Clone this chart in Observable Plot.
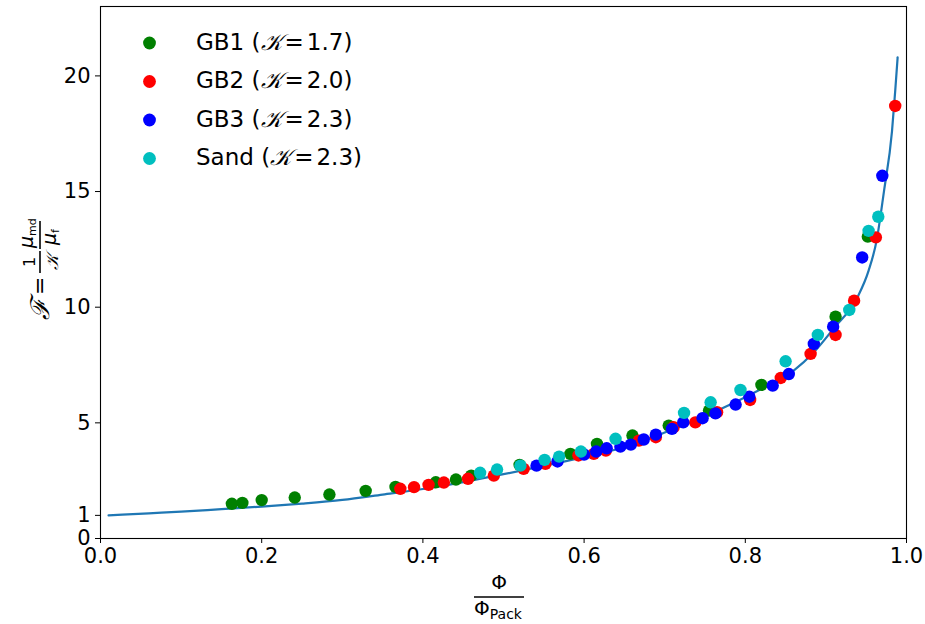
<!DOCTYPE html>
<html><head><meta charset="utf-8">
<script src="https://cdn.jsdelivr.net/npm/d3@7"></script>
<script src="https://cdn.jsdelivr.net/npm/@observablehq/plot@0.6"></script>
<style>body{margin:0;background:#fff} #chart{position:relative;width:925px;height:624px}</style>
</head><body><div id="chart"></div>
<script>
// Model curve
const curveX = [0.01,0.06,0.1,0.15,0.2,0.25,0.3,0.35,0.4,0.45,0.5,0.55,0.6,0.645,0.7,0.744,0.786,0.827,0.86,0.885,0.91,0.939,0.953,0.963,0.972,0.982,0.986,0.989];
const curveF = [1.00,1.09,1.16,1.27,1.38,1.51,1.67,1.90,2.14,2.44,2.78,3.14,3.52,3.90,4.58,5.20,5.87,6.60,7.26,8.05,9.1,10.42,11.58,12.9,15.0,17.6,19.35,20.8];

// GB1 (K=1.7)
const gb1X = [0.163,0.176,0.200,0.241,0.284,0.329,0.366,0.416,0.441,0.460,0.520,0.583,0.616,0.660,0.705,0.755,0.820,0.912,0.952];
const gb1F = [1.50,1.54,1.66,1.77,1.90,2.06,2.23,2.43,2.55,2.72,3.18,3.66,4.09,4.45,4.88,5.53,6.64,9.59,13.05];
// GB2 (K=2.0)
const gb2X = [0.372,0.389,0.407,0.426,0.456,0.488,0.525,0.552,0.593,0.612,0.627,0.668,0.689,0.711,0.738,0.765,0.806,0.844,0.881,0.912,0.935,0.962,0.986];
const gb2F = [2.15,2.22,2.32,2.42,2.58,2.72,3.01,3.23,3.59,3.66,3.80,4.23,4.38,4.81,5.02,5.46,5.99,6.94,7.98,8.80,10.28,13.02,18.70];
// GB3 (K=2.3)
const gb3X = [0.541,0.567,0.600,0.615,0.628,0.645,0.658,0.674,0.689,0.709,0.723,0.747,0.763,0.788,0.805,0.834,0.854,0.885,0.909,0.945,0.970];
const gb3F = [3.15,3.33,3.63,3.76,3.90,3.97,4.06,4.28,4.49,4.74,5.02,5.20,5.41,5.79,6.13,6.61,7.11,8.41,9.16,12.15,15.68];
// Sand (K=2.3)
const sandX = [0.471,0.492,0.521,0.551,0.569,0.596,0.639,0.724,0.757,0.794,0.850,0.890,0.929,0.953,0.965];
const sandF = [2.84,2.98,3.15,3.40,3.54,3.76,4.31,5.43,5.89,6.42,7.66,8.80,9.88,13.30,13.91];

const seriesNames = ["GB1", "GB2", "GB3", "Sand"];
const seriesK = ["1.7", "2.0", "2.3", "2.3"];
const seriesColors = ["#008000", "#ff0000", "#0000ff", "#00bfbf"];
const xTicks = [0, 0.2, 0.4, 0.6, 0.8, 1.0];
const yTicks = [0, 1, 5, 10, 15, 20];

const curve = curveX.map((x, i) => ({x, F: curveF[i]}));
const mk = (xs, Fs) => xs.map((x, i) => ({x, F: Fs[i]}));
const series = [mk(gb1X, gb1F), mk(gb2X, gb2F), mk(gb3X, gb3F), mk(sandX, sandF)];

const svgNode = Plot.plot({
  width: 925, height: 624,
  marginLeft: 100, marginRight: 19, marginTop: 6, marginBottom: 86,
  style: {fontFamily: "DejaVu Sans", fontSize: "21px", color: "black", background: "white", overflow: "visible"},
  x: {domain: [0, 1]},
  y: {domain: [0, 23]},
  marks: [
    Plot.axisX({ticks: xTicks, tickFormat: d3.format(".1f"), tickSize: 5, tickPadding: 5, label: null, fontSize: 21}),
    Plot.axisY({ticks: yTicks, tickSize: 5, tickPadding: 5, label: null, fontSize: 21}),
    Plot.line(curve, {x: "x", y: "F", stroke: "#1f77b4", strokeWidth: 2.2, curve: "monotone-x"}),
    ...series.map((d, i) => Plot.dot(d, {x: "x", y: "F", r: 6.2, fill: seriesColors[i], stroke: "none"})),
    Plot.frame({stroke: "black", strokeWidth: 1.1})
  ]
});
document.getElementById("chart").appendChild(svgNode);
const svg = d3.select(svgNode);

// Legend
const leg = svg.append("g").attr("font-family", "DejaVu Sans").attr("font-size", 23).attr("fill", "black").attr("text-anchor", "start");
seriesNames.forEach((n, i) => {
  const cy = 43 + 38.5 * i;
  leg.append("circle").attr("cx", 149.5).attr("cy", cy).attr("r", 6.4).attr("fill", seriesColors[i]);
  const t = leg.append("text").attr("x", 196).attr("y", cy + 6.5).attr("text-anchor", "start");
  t.append("tspan").text(n + " (");
  t.append("tspan").attr("font-family", "DejaVu Serif").attr("font-style", "italic").text("𝒦");
  t.append("tspan").attr("dx", 3).text("=");
  t.append("tspan").attr("dx", 3).text(seriesK[i] + ")");
});

// X label: Φ / Φ_Pack
const xl = svg.append("g").attr("font-family", "DejaVu Sans").attr("fill", "black").attr("text-anchor", "start");
xl.append("text").attr("x", 499).attr("y", 589).attr("text-anchor", "middle").attr("font-size", 20).text("Φ");
xl.append("line").attr("x1", 474).attr("x2", 524).attr("y1", 597).attr("y2", 597).attr("stroke", "black").attr("stroke-width", 1.6);
const dn = xl.append("text").attr("x", 474).attr("y", 615).attr("font-size", 20).attr("text-anchor", "start");
dn.append("tspan").text("Φ");
dn.append("tspan").attr("font-size", 14).attr("dy", 4).text("Pack");

// Y label: ℱ = (1/𝒦)(μ_md/μ_f)
const yl = svg.append("g").attr("transform", "translate(40,268) rotate(-90)").attr("font-family", "DejaVu Sans").attr("fill", "black").attr("text-anchor", "start");
yl.append("text").attr("x", -52).attr("y", 9).attr("font-size", 26).attr("font-style", "italic").attr("font-family", "DejaVu Serif").attr("text-anchor", "start").text("ℱ");
yl.append("text").attr("x", -27).attr("y", 7).attr("font-size", 22).attr("text-anchor", "start").text("=");
yl.append("line").attr("x1", -5).attr("x2", 17).attr("y1", 0).attr("y2", 0).attr("stroke", "black").attr("stroke-width", 1.6);
yl.append("text").attr("x", 6).attr("y", -5).attr("text-anchor", "middle").attr("font-size", 16).text("1");
yl.append("text").attr("x", 6).attr("y", 18).attr("text-anchor", "middle").attr("font-size", 17).attr("font-family", "DejaVu Serif").attr("font-style", "italic").text("𝒦");
yl.append("line").attr("x1", 19).attr("x2", 47).attr("y1", 0).attr("y2", 0).attr("stroke", "black").attr("stroke-width", 1.6);
const nu = yl.append("text").attr("x", 20).attr("y", -7).attr("font-size", 19).attr("font-style", "italic").attr("text-anchor", "start");
nu.append("tspan").text("μ");
nu.append("tspan").attr("font-size", 11).attr("font-style", "normal").attr("dy", 3).text("md");
const de = yl.append("text").attr("x", 23).attr("y", 16).attr("font-size", 19).attr("font-style", "italic").attr("text-anchor", "start");
de.append("tspan").text("μ");
de.append("tspan").attr("font-size", 11).attr("font-style", "normal").attr("dy", 3).text("f");
</script></body></html>
